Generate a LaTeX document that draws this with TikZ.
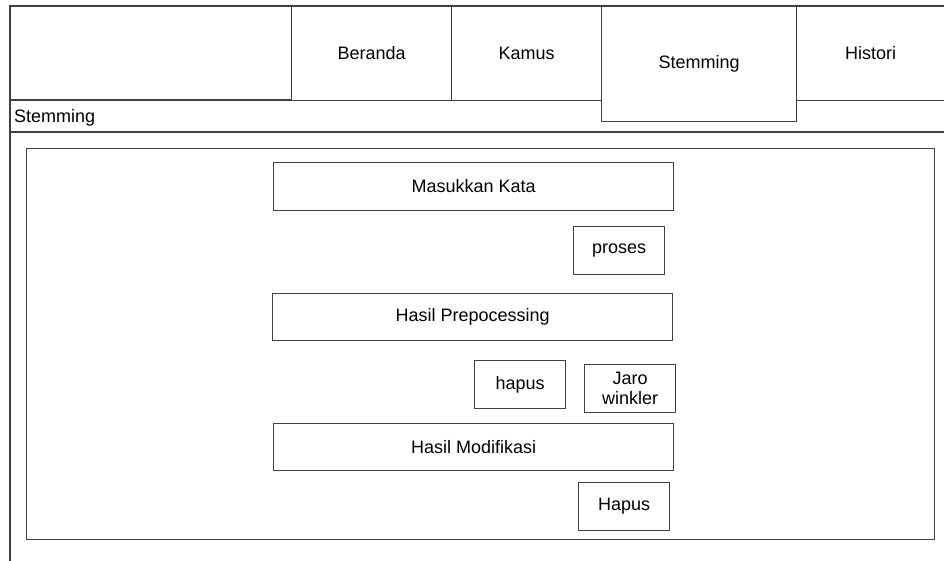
\documentclass[tikz,border=0pt]{standalone}
\usepackage{fontspec}
\setmainfont{Liberation Sans}
\begin{document}
\begin{tikzpicture}[x=1pt, y=-1pt,
  line/.style={draw=black!75, line width=1.1pt},
  txt/.style={font=\fontsize{18}{20.5}\selectfont},
  box/.style={line, txt, rectangle, fill=white, inner sep=0pt, anchor=north west,
    align=center},
]
\useasboundingbox (0,0) rectangle (944,560);
\begin{scope}
\clip (0,0) rectangle (944,560);
% page frame, header bar and title bar
\draw[line] (10,6) rectangle (960,580);
\draw[line] (10,100) -- (944,100);
\draw[line] (10,132) -- (944,132);
\end{scope}

% navigation tabs
\node[box, minimum width=160pt, minimum height=94pt] (beranda) at (291,6) {Beranda};
\node[box, minimum width=150pt, minimum height=94pt] (kamus) at (451,6) {Kamus};
\node[box, minimum width=148pt, minimum height=94pt] (histori) at (796,6) {Histori};
\node[box, minimum width=195pt, minimum height=115pt] (stemtab) at (601,6) {Stemming};

% page title
\node[txt, anchor=west, inner sep=2pt] (title) at (12,117.5) {Stemming};

% content panel
\node[box, minimum width=908pt, minimum height=391pt] (panel) at (26,148) {};

% form elements
\node[box, minimum width=400pt, minimum height=48pt] (masukkan) at (273,162) {Masukkan Kata};
\node[box, minimum width=91pt, minimum height=48pt] (proses) at (573,226) {proses};
\node[box, minimum width=400pt, minimum height=47pt] (prepro) at (272,293) {Hasil Prepocessing};
\node[box, minimum width=91pt, minimum height=48pt] (hapus) at (474,360) {hapus};
\node[box, minimum width=91pt, minimum height=48pt] (jaro) at (584,364) {Jaro\\winkler};
\node[box, minimum width=400pt, minimum height=47pt] (modif) at (273,423) {Hasil Modifikasi};
\node[box, minimum width=91pt, minimum height=48pt] (hapus2) at (578,482) {Hapus};
\end{tikzpicture}
\end{document}
